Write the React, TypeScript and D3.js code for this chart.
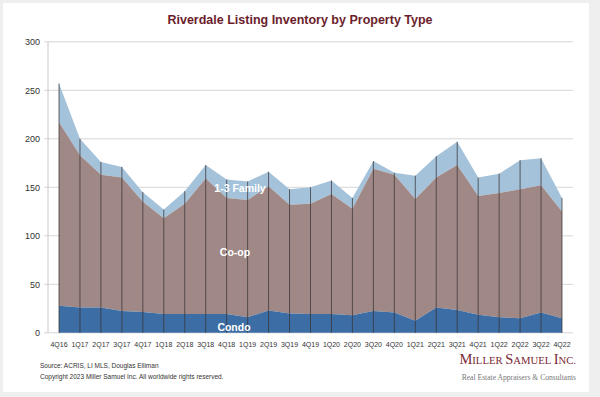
import React, { useRef, useEffect } from "react";
import * as d3 from "d3";

const quarters = [
  "4Q16", "1Q17", "2Q17", "3Q17", "4Q17", "1Q18", "2Q18", "3Q18", "4Q18",
  "1Q19", "2Q19", "3Q19", "4Q19", "1Q20", "2Q20", "3Q20", "4Q20",
  "1Q21", "2Q21", "3Q21", "4Q21", "1Q22", "2Q22", "3Q22", "4Q22",
];

// stacked tops
const condo = [28, 26, 26, 22.5, 21.5, 19.5, 19.5, 19.5, 19.5, 16, 23, 20, 19.5, 19.5, 18, 22.5, 21, 12.5, 26, 23.5, 18.5, 16, 15, 21, 15];
const coopTop = [217, 183, 163, 160, 135, 118, 133, 159, 139, 137, 151, 132, 133, 143, 128, 169, 163, 138, 160, 173, 141, 144, 148, 152, 125];
const totalTop = [257, 200, 176, 171, 145, 127, 146, 173, 158, 156, 166, 148, 150, 157, 139, 177, 165, 162, 182, 197, 160, 164, 178, 180, 139];

const yTicks = [0, 50, 100, 150, 200, 250, 300];

const App: React.FC = () => {
  const svgRef = useRef<SVGSVGElement | null>(null);

  useEffect(() => {
    const width = 600;
    const height = 397;
    const svg = d3.select(svgRef.current);
    svg.selectAll("*").remove();

    svg.append("rect").attr("width", width).attr("height", height).attr("fill", "#efefef");
    svg.append("rect").attr("x", 3).attr("y", 3).attr("width", 586).attr("height", 389).attr("fill", "#fff");

    const x = d3.scalePoint<string>().domain(quarters).range([59, 562]);
    const y = d3.scaleLinear().domain([0, 300]).range([332.8, 41.8]);

    // title
    svg.append("text")
      .attr("x", 300).attr("y", 24)
      .attr("text-anchor", "middle")
      .style("font-family", "Liberation Sans, Arial, sans-serif")
      .style("font-size", "12.5px").style("font-weight", "bold")
      .attr("fill", "#6b1d2c")
      .text("Riverdale Listing Inventory by Property Type");

    // grid
    const grid = svg.append("g");
    yTicks.forEach((t) => {
      grid.append("line")
        .attr("x1", 44).attr("x2", 573)
        .attr("y1", y(t)).attr("y2", y(t))
        .attr("stroke", "#d6d6d6").attr("stroke-width", 1);
      grid.append("text")
        .attr("x", 40).attr("y", y(t) + 3.5)
        .attr("text-anchor", "end")
        .style("font-family", "Liberation Sans, Arial, sans-serif")
        .style("font-size", "9px")
        .attr("fill", "#333")
        .text(t);
    });
    grid.append("line")
      .attr("x1", 48).attr("x2", 48).attr("y1", y(300)).attr("y2", y(0))
      .attr("stroke", "#c8c8c8");

    const idx = d3.range(quarters.length);
    const area = (lo: number[], hi: number[]) =>
      d3.area<number>()
        .x((i) => x(quarters[i]) as number)
        .y0((i) => y(lo[i]))
        .y1((i) => y(hi[i]))(idx);

    const zeros = idx.map(() => 0);
    svg.append("path").attr("d", area(coopTop, totalTop)).attr("fill", "#a4c2da");
    svg.append("path").attr("d", area(condo, coopTop)).attr("fill", "#a08886");
    svg.append("path").attr("d", area(zeros, condo)).attr("fill", "#3c6da4");

    // vertical drop lines
    svg.append("g").selectAll("line")
      .data(idx)
      .join("line")
      .attr("x1", (i) => x(quarters[i]) as number)
      .attr("x2", (i) => x(quarters[i]) as number)
      .attr("y1", y(0))
      .attr("y2", (i) => y(totalTop[i]))
      .attr("stroke", "#3a3436")
      .attr("stroke-opacity", 0.75)
      .attr("stroke-width", 1);

    // x labels
    svg.append("g").selectAll("text")
      .data(quarters)
      .join("text")
      .attr("x", (d) => x(d) as number)
      .attr("y", 347)
      .attr("text-anchor", "middle")
      .style("font-family", "Liberation Sans Narrow, Liberation Sans, Arial, sans-serif")
      .style("font-size", "7px")
      .attr("fill", "#333")
      .text((d) => d);

    // series labels
    const labels = [
      { t: "1-3 Family", x: 240, y: 192 },
      { t: "Co-op", x: 235, y: 256 },
      { t: "Condo", x: 234, y: 331 },
    ];
    labels.forEach((l) => {
      svg.append("text")
        .attr("x", l.x).attr("y", l.y)
        .attr("text-anchor", "middle")
        .style("font-family", "Liberation Sans, Arial, sans-serif")
        .style("font-size", "10.5px").style("font-weight", "bold")
        .attr("fill", "#fff")
        .text(l.t);
    });

    // footer
    const foot = svg.append("g")
      .style("font-family", "Liberation Sans, Arial, sans-serif")
      .style("font-size", "6.5px")
      .attr("fill", "#333");
    foot.append("text").attr("x", 40).attr("y", 368).text("Source: ACRIS, LI MLS, Douglas Elliman");
    foot.append("text").attr("x", 40).attr("y", 378.5).text("Copyright 2023 Miller Samuel Inc.  All worldwide rights reserved.");

    // logo
    const logo = svg.append("text")
      .attr("x", 576).attr("y", 364)
      .attr("text-anchor", "end")
      .style("font-family", "Liberation Serif, DejaVu Serif, serif")
      .attr("fill", "#7a2a35");
    [["M", 14.5], ["ILLER ", 10.7], ["S", 14.5], ["AMUEL ", 10.7], ["I", 14.5], ["NC.", 10.7]].forEach(([t, s]) => {
      logo.append("tspan").style("font-size", `${s}px`).text(t as string);
    });
    svg.append("text")
      .attr("x", 576).attr("y", 380)
      .attr("text-anchor", "end")
      .style("font-family", "Liberation Serif, DejaVu Serif, serif")
      .style("font-size", "7.6px")
      .attr("fill", "#777")
      .text("Real Estate Appraisers & Consultants");
  }, []);

  return (
    <svg
      ref={svgRef}
      width={600}
      height={397}
      style={{ position: "absolute", left: 0, top: 0, display: "block" }}
    />
  );
};

export default App;
